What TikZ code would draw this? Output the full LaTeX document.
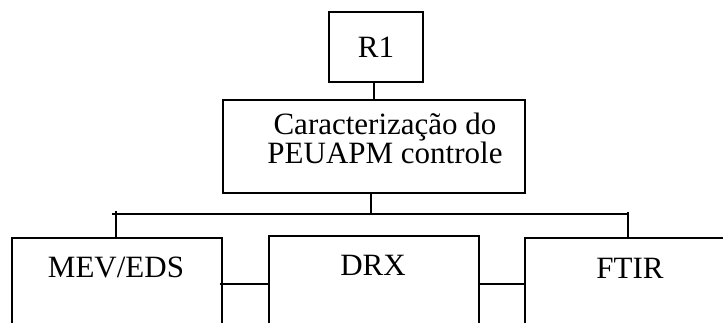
\documentclass[tikz,border=0pt]{standalone}
\usepackage{fontspec}
\setmainfont{Liberation Serif}
\begin{document}
\begin{tikzpicture}[x=1pt,y=-1pt,
  box/.style={draw, line width=1.6pt, inner sep=0pt},
  wire/.style={line width=1.6pt},
  lbl/.style={font=\fontsize{31}{26}\selectfont, inner sep=0pt, align=center}]
  \useasboundingbox (0,0) rectangle (723,323);
  \clip (0,0) rectangle (723,323);

  % top box and the main box below it
  \node[box, minimum width=94, minimum height=70] (r1) at (376,47) {};
  \node[lbl] at (376,47) {R1};
  \node[box, minimum width=302, minimum height=93] (main) at (374,146.5) {};
  \node[lbl] (maintxt) at (385,138.5) {Caracterização do\\PEUAPM controle};

  % three analysis boxes, running past the lower edge
  \node[box, minimum width=210, minimum height=160, anchor=north west] (mev) at (11,237) {};
  \node[box, minimum width=210, minimum height=160, anchor=north west] (drx) at (268,235) {};
  \node[box, minimum width=210, minimum height=160, anchor=north west] (ftir) at (524,237) {};
  \node[lbl] at (116,267) {MEV/EDS};
  \node[lbl] at (373,265) {DRX};
  \node[lbl] at (630,268) {FTIR};

  % connectors
  \coordinate (busL) at (112,214);
  \coordinate (busR) at (628,214);
  \coordinate (tickL) at (116,211);
  \coordinate (tickR) at (628,212);
  \draw[wire] (r1.south -| main.north) -- (main.north);
  \draw[wire] (main.south -| 371,0) -- (busL -| 371,0);
  \draw[wire] (busL) -- (busR);
  \draw[wire] (tickL) -- (tickL |- mev.north);
  \draw[wire] (tickR) -- (tickR |- ftir.north);
  \draw[wire] ([xshift=-3pt]mev.north east |- 0,284) -- (drx.north west |- 0,284);
  \draw[wire] (drx.north east |- 0,284) -- (ftir.north west |- 0,284);
\end{tikzpicture}
\end{document}
